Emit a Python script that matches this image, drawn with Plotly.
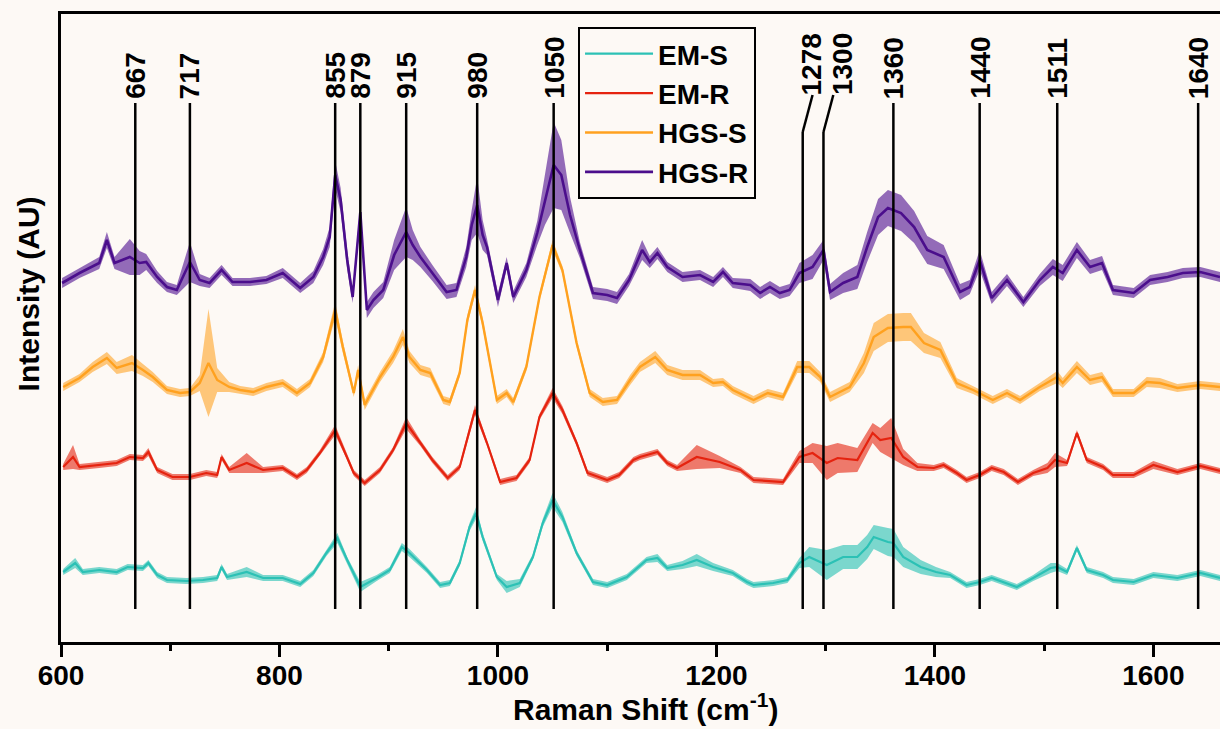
import numpy as np
import plotly.graph_objects as go

BG = "#fdf9f5"
FONT = "Liberation Sans"

# ---------------- data (Raman shift in cm-1, intensity in arbitrary units, stacked) ----------------
hgsr_x = [601,617,635,642,649,663,672,678,688,697,706,718,727,736,747,757,773,788,803,819,
          831,840,846,851,856,862,867,874,880,886,895,905,916,922,929,940,953,962,971,976,
          981,986,990,1000,1008,1014,1026,1036,1043,1051,1058,1066,1075,1087,1100,1109,1120,1132,1139,1146,
          1155,1169,1185,1197,1206,1215,1231,1240,1249,1258,1267,1276,1288,1298,1304,1316,1329,1338,1348,1357,
          1369,1381,1393,1408,1423,1432,1441,1452,1466,1481,1496,1508,1517,1530,1542,1553,1563,1582,1597,1613,
          1627,1643,1661]
hgsr_mean = [359,369,379,402,379,385,379,380,365,355,352,380,362,359,372,360,360,362,369,354,
             365,385,405,467,442,382,345,430,332,342,352,387,410,397,385,369,350,352,385,417,
             437,407,395,342,379,345,372,409,442,477,467,427,392,349,347,344,362,392,380,389,
             375,365,367,360,370,359,357,349,355,349,352,369,375,392,350,359,365,395,425,434,
             429,415,392,385,350,355,382,344,362,340,362,375,369,392,375,379,352,349,362,365,
             369,370,365]
hgsr_sd = [5,5,6,8,6,18,12,8,6,5,5,20,6,5,5,4,4,4,5,5,
           6,8,10,14,12,10,6,8,8,8,8,15,25,15,10,8,7,7,10,15,
           28,15,8,7,6,6,7,12,25,43,35,18,8,6,6,6,6,10,6,6,
           5,5,5,5,5,5,6,6,6,6,6,10,12,10,8,10,12,15,18,18,
           18,16,14,12,8,7,10,6,6,5,6,8,8,8,7,7,5,5,5,5,
           5,5,5]

hgss_x = [602,617,629,642,651,665,675,684,697,709,718,727,735,743,754,764,776,788,803,816,
          828,840,851,858,868,872,878,892,904,913,919,929,938,950,956,965,972,979,986,999,
          1008,1014,1026,1038,1050,1059,1072,1084,1096,1109,1121,1130,1144,1155,1169,1185,1197,1206,1215,1234,
          1247,1261,1274,1285,1295,1304,1322,1335,1344,1357,1371,1378,1390,1405,1420,1435,1453,1466,1478,1496,
          1512,1517,1530,1542,1553,1563,1582,1594,1606,1622,1643,1661]
hgss_mean = [255,264,275,284,274,279,272,265,252,249,250,259,279,262,255,252,250,255,259,249,
             259,285,332,295,249,272,237,265,285,305,285,272,269,242,240,269,322,352,319,242,
             249,240,275,345,397,372,299,249,240,242,262,275,285,272,267,267,259,260,252,242,
             249,245,275,275,265,245,255,279,305,314,315,315,299,292,259,252,242,249,242,255,
             265,259,275,262,265,249,249,260,259,254,257,255]
hgss_sd = [4,4,5,6,6,8,6,5,4,4,4,8,54,12,5,4,4,4,4,4,
           4,5,8,6,4,5,5,5,6,8,6,5,5,4,4,4,5,5,5,4,
           4,4,4,4,5,4,4,4,4,4,5,5,6,5,5,5,4,4,4,4,
           4,4,6,6,5,5,5,10,14,14,14,14,10,8,5,4,4,4,4,4,
           6,5,6,5,5,4,4,5,5,4,4,4]

emr_x = [602,611,617,635,651,663,675,680,688,702,718,733,743,747,754,770,785,803,816,825,
         837,851,862,868,878,892,904,916,929,940,954,965,979,990,1002,1017,1029,1038,1050,1059,
         1072,1082,1100,1111,1124,1130,1146,1155,1164,1182,1203,1222,1234,1261,1276,1288,1301,1311,1329,1343,
         1350,1360,1371,1384,1399,1408,1420,1429,1441,1452,1463,1476,1490,1503,1510,1521,1530,1539,1554,1563,
         1582,1600,1622,1643,1661]
emr_mean = [175,185,175,177,179,185,184,190,172,165,165,169,167,185,172,179,172,174,165,172,
            189,212,185,169,159,172,192,219,199,182,164,175,232,199,160,164,182,225,249,232,
            199,169,162,167,182,185,190,179,174,185,180,172,162,160,185,189,179,184,182,209,
            202,204,185,175,174,177,169,162,167,174,170,160,169,174,182,179,209,182,175,167,
            167,177,170,176,171]
emr_sd = [3,12,3,3,3,3,3,4,3,3,3,3,3,3,3,10,3,3,3,3,
          3,5,3,3,3,3,3,6,3,3,3,3,5,3,3,3,3,3,5,4,
          3,3,3,3,3,3,3,3,3,12,6,3,3,3,6,10,17,15,12,10,
          12,20,8,4,3,3,3,3,3,3,3,3,3,5,7,3,3,3,3,3,
          3,4,3,3,3]

ems_x = [602,613,620,635,651,661,675,680,688,697,715,730,743,747,752,770,785,803,819,831,
         843,853,862,874,889,901,912,919,935,947,956,965,974,980,986,999,1008,1020,1032,1041,
         1050,1059,1072,1087,1100,1118,1136,1146,1155,1169,1182,1197,1215,1228,1234,1252,1265,1276,1285,1301,
         1316,1329,1338,1344,1357,1362,1371,1387,1401,1414,1429,1441,1452,1463,1475,1490,1506,1512,1521,1530,
         1539,1554,1563,1582,1600,1622,1643,1661]
ems_mean = [70,79,70,72,70,75,74,79,67,62,61,62,64,75,65,70,64,64,58,69,
            89,104,82,55,64,72,95,89,72,57,59,79,115,129,105,65,55,59,85,119,
            142,125,89,60,57,65,82,84,74,77,82,75,69,60,57,59,62,79,85,77,
            85,85,95,105,100,99,85,75,70,67,57,60,64,60,55,64,74,75,70,94,
            72,67,62,60,67,64,69,64]
ems_sd = [3,5,3,3,3,3,3,3,3,3,3,3,3,3,3,5,3,3,3,3,
          3,5,3,5,3,3,4,4,3,3,3,3,4,6,4,3,6,4,3,4,
          7,5,3,3,3,3,3,4,3,4,6,4,3,3,3,3,3,5,10,15,
          12,12,12,12,14,14,10,7,5,3,3,3,3,3,3,3,5,4,3,3,
          3,3,3,3,3,3,3,3]

series_names = ["EM-S", "EM-R", "HGS-S", "HGS-R"]

# peak assignments
peak_pos = [668, 718, 851, 874, 916, 981, 1051, 1279, 1298, 1362, 1441, 1512, 1641]
peak_labels = ["667", "717", "855", "879", "915", "980", "1050", "1278", "1300", "1360", "1440", "1511", "1640"]

# ---------------- styling / layout ----------------
line_colors = ["#2cc1b5", "#e5230f", "#ffa11f", "#4b0e8c"]
fill_colors = ["rgba(44,193,181,0.62)", "rgba(229,35,15,0.60)", "rgba(255,161,31,0.58)", "rgba(91,30,150,0.65)"]
line_widths = [2.2, 2.2, 2.4, 2.6]

data = [(ems_x, ems_mean, ems_sd), (emr_x, emr_mean, emr_sd),
        (hgss_x, hgss_mean, hgss_sd), (hgsr_x, hgsr_mean, hgsr_sd)]

# label placement for crowded peaks (leader lines)
label_x = list(peak_pos)
leader_top = [None] * len(peak_pos)
label_x[7], leader_top[7] = 1287, 1288
label_x[8], leader_top[8] = 1315, 1307
LINE_BOTTOM, LINE_TOP, BEND, LEADER_END = 33, 539, 510, 547
LABEL_Y, LABEL_Y_LEADER = 541, 545

fig = go.Figure()

for i, (x, m, s) in enumerate(data):
    x = np.asarray(x, float)
    m = np.asarray(m, float)
    s = np.asarray(s, float)
    fig.add_trace(go.Scatter(
        x=np.concatenate([x, x[::-1]]),
        y=np.concatenate([m + s, (m - s)[::-1]]),
        fill="toself", fillcolor=fill_colors[i], line=dict(width=0),
        mode="lines", hoverinfo="skip", showlegend=False))

for i, (x, m, s) in enumerate(data):
    fig.add_trace(go.Scatter(
        x=x, y=m, mode="lines", name=series_names[i],
        line=dict(color=line_colors[i], width=line_widths[i])))

shapes = []
annotations = []
for px, lx, lt, lab in zip(peak_pos, label_x, leader_top, peak_labels):
    if lt is None:
        shapes.append(dict(type="line", xref="x", yref="y", x0=px, x1=px,
                           y0=LINE_BOTTOM, y1=LINE_TOP, line=dict(color="black", width=2.5)))
        ly = LABEL_Y
    else:
        shapes.append(dict(type="line", xref="x", yref="y", x0=px, x1=px,
                           y0=LINE_BOTTOM, y1=BEND, line=dict(color="black", width=2.5)))
        shapes.append(dict(type="line", xref="x", yref="y", x0=px, x1=lt,
                           y0=BEND, y1=LEADER_END, line=dict(color="black", width=2.5)))
        ly = LABEL_Y_LEADER
    annotations.append(dict(x=lx, y=ly, xref="x", yref="y", text=lab, showarrow=False,
                            textangle=-90, xanchor="center", yanchor="bottom",
                            font=dict(family=FONT, size=28, color="black", weight="bold")))

annotations.append(dict(x=0.5047, y=-0.104, xref="paper", yref="paper",
                        text="Raman Shift (cm<sup>-1</sup>)", showarrow=False,
                        xanchor="center", yanchor="middle",
                        font=dict(family=FONT, size=30, color="black", weight="bold")))
annotations.append(dict(x=-0.0285, y=0.555, xref="paper", yref="paper",
                        text="Intensity (AU)", showarrow=False, textangle=-90,
                        xanchor="center", yanchor="middle",
                        font=dict(family=FONT, size=30, color="black", weight="bold")))

fig.update_layout(
    width=1220, height=729,
    margin=dict(l=61, r=0, t=14, b=87, autoexpand=False),
    paper_bgcolor=BG, plot_bgcolor=BG,
    font=dict(family=FONT, color="black"),
    shapes=shapes, annotations=annotations,
    legend=dict(x=0.4461, y=0.9793, xanchor="left", yanchor="top",
                bgcolor=BG, bordercolor="black", borderwidth=2,
                font=dict(family=FONT, size=28, color="black", weight="bold"),
                itemwidth=68, tracegroupgap=0),
    xaxis=dict(range=[600, 1661], tickvals=[600, 800, 1000, 1200, 1400, 1600],
               ticks="outside", ticklen=12, tickwidth=2.5, tickcolor="black",
               ticklabelstandoff=-5,
               showline=True, linewidth=2.5, linecolor="black", mirror=True,
               showgrid=False, zeroline=False,
               tickfont=dict(family=FONT, size=28, color="black", weight="bold"),
               minor=dict(dtick=100, ticks="outside", ticklen=6, tickwidth=2.5,
                          tickcolor="black", showgrid=False)),
    yaxis=dict(range=[0, 628], showline=True, linewidth=2.5, linecolor="black",
               showticklabels=False, ticks="", showgrid=False, zeroline=False),
)

fig.write_html("out.html")
